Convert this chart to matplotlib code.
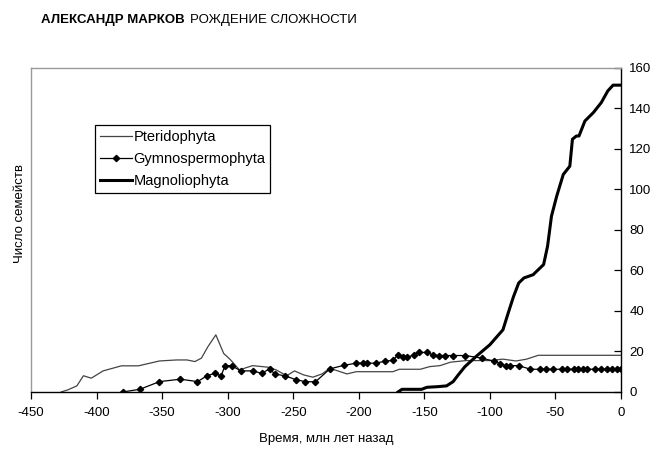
import matplotlib
matplotlib.use('Agg')
import matplotlib.pyplot as plt

# число семейств по группам растений, млн лет назад
pter_t = [-427, -422, -415, -410, -404, -395, -381, -368, -352, -339, -331, -325, -320,
          -315, -309, -303, -298, -291, -281, -269, -263, -255, -249, -242, -235, -228,
          -222, -209, -202, -174, -169, -153, -146, -138, -130, -118, -100, -90, -80,
          -72, -63, -40, -20, 0]
pter_n = [0, 1, 3, 8, 6.8, 10.4, 12.9, 12.9, 15.3, 15.8, 15.8, 15, 16.7,
          22.4, 28.2, 19, 16, 10.9, 13, 12.2, 10.9, 8, 10.4, 8.4, 7.3, 8.9,
          11.7, 8.9, 10, 10, 11.2, 11.2, 12.5, 13, 14.7, 15.5, 15.5, 16.2, 15.3,
          16.2, 18.1, 18.1, 18.1, 18.1]

gymn_t = [-380, -367, -352, -336, -323, -316, -310, -305, -302, -297, -290, -281, -274,
          -268, -264, -256, -248, -241, -233, -222, -211, -202, -197, -194, -187, -180,
          -174, -170, -166, -163, -158, -154, -148, -143, -139, -134, -128, -119, -106,
          -97, -92, -88, -85, -78, -69, -62, -57, -52, -45, -41, -36, -33, -29, -26,
          -20, -15, -11, -7, -3, 0]
gymn_n = [0, 1.3, 5.1, 6.3, 5.1, 7.9, 9.2, 7.9, 13, 13, 10.4, 10.4, 9.2,
          11.4, 8.9, 7.9, 6.1, 5.1, 5, 11.4, 13.2, 14.2, 14.2, 14.2, 14.2, 15.2,
          15.6, 18.3, 17.1, 17.1, 18.3, 19.5, 19.5, 18.2, 18, 18, 18, 18, 16.7,
          15.2, 14, 13, 13, 13, 11.2, 11.2, 11.2, 11.2, 11.2, 11.2, 11.2, 11.2, 11.2, 11.2,
          11.2, 11.2, 11.2, 11.2, 11.2, 11.2]

magn_t = [-170, -167, -152, -148, -140, -133, -128, -124, -119, -110, -100, -90, -86,
          -82, -78, -74, -67, -59, -56, -53, -49, -44, -39, -37, -34, -32, -27.5,
          -21, -15, -10, -6, 0]
magn_n = [0, 1.3, 1.3, 2.3, 2.6, 3, 5.1, 8.5, 12.5, 17.8, 23.3, 30.7, 39,
          47, 53.8, 56.3, 57.9, 62.9, 71.9, 86.8, 96.7, 107.4, 111.5, 124.8, 126.4, 126.4, 133.8,
          138, 142.9, 148.7, 151.5, 151.5]

x_ticks = list(range(-450, 1, 50))
y_ticks = list(range(0, 161, 20))

plt.rcParams['font.family'] = ['Liberation Sans', 'DejaVu Sans']
plt.rcParams['axes.unicode_minus'] = False

fig = plt.figure(figsize=(6.62, 4.5), dpi=100)
ax = fig.add_axes([0.0468, 0.129, 0.8912, 0.72])

ax.plot(pter_t, pter_n, color='#444444', lw=0.9, label='Pteridophyta')
ax.plot(gymn_t, gymn_n, color='black', lw=0.9, marker='D', ms=3.2,
        label='Gymnospermophyta')
ax.plot(magn_t, magn_n, color='black', lw=2.2, label='Magnoliophyta')

ax.set_xlim(-450, 0)
ax.set_ylim(0, 160)
ax.set_xticks(x_ticks)
ax.set_yticks(y_ticks)
ax.yaxis.tick_right()
ax.tick_params(axis='x', direction='out', length=5, width=0.9, labelsize=9.5, pad=6)
ax.tick_params(axis='y', direction='in', length=5, width=0.9, labelsize=9.5, pad=6)

for side in ('left', 'top'):
    ax.spines[side].set_color('#999999')
    ax.spines[side].set_linewidth(1.0)
for side in ('right', 'bottom'):
    ax.spines[side].set_color('black')
    ax.spines[side].set_linewidth(1.0)

ax.set_xlabel('Время, млн лет назад', fontsize=9.5, labelpad=10)
fig.text(0.03, 0.525, 'Число семейств', rotation=90, fontsize=9.5,
         ha='center', va='center')

leg = ax.legend(loc='upper left', bbox_to_anchor=(0.108, 0.824), fontsize=10.5,
                numpoints=1, handlelength=2.2, handletextpad=0.1,
                labelspacing=0.55, borderpad=0.35, borderaxespad=0,
                fancybox=False, edgecolor='black', framealpha=1)
leg.get_frame().set_linewidth(0.9)

# шапка страницы: автор жирным, название книги обычным
t1 = fig.text(41 / 662, 1 - 20 / 450, 'АЛЕКСАНДР МАРКОВ', fontsize=9.5,
              fontweight='bold', va='center', ha='left')
fig.canvas.draw()
bb = t1.get_window_extent()
fig.text((bb.x1 + 5) / 662, 1 - 20 / 450, 'РОЖДЕНИЕ СЛОЖНОСТИ', fontsize=9.5,
         va='center', ha='left')

fig.savefig('out.png', dpi=100)
